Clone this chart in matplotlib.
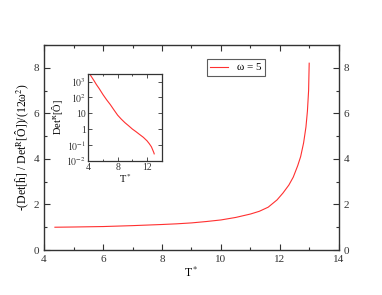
import numpy as np
import matplotlib

matplotlib.use('Agg')
import matplotlib.pyplot as plt
from matplotlib.ticker import MultipleLocator, FixedLocator, FixedFormatter, LogLocator

plt.rcParams['font.family'] = ['Liberation Serif', 'DejaVu Serif']
plt.rcParams['mathtext.fontset'] = 'stix'

# main curve: -(Det[h] / Det^R[O]) / (12 w^2) vs T*
main_T = [4.37, 5.0, 6.0, 7.0, 8.0, 8.5, 9.0, 9.5, 10.0, 10.5, 11.0, 11.3, 11.6,
          11.9, 12.1, 12.3, 12.45, 12.6, 12.7, 12.8, 12.88, 12.93, 12.97, 12.99]
main_y = [1.0, 1.01, 1.03, 1.07, 1.12, 1.15, 1.19, 1.25, 1.32, 1.43, 1.58, 1.7, 1.88,
          2.2, 2.5, 2.85, 3.2, 3.7, 4.1, 4.7, 5.4, 6.1, 7.0, 8.2]

# inset: Det^R[O] vs T*
inset_T = [4.3, 4.5, 4.8, 5.1, 5.5, 6.0, 6.5, 7.0, 7.5, 8.0, 8.5, 9.0, 9.5, 10.0,
           10.5, 11.0, 11.5, 12.0, 12.3, 12.6, 12.8, 12.92, 12.98]
inset_y = [2500, 1800, 1100, 650, 350, 150, 70, 35, 16, 7.5, 4.2, 2.5, 1.6, 1.0,
           0.68, 0.45, 0.3, 0.18, 0.12, 0.075, 0.045, 0.033, 0.027]

red = '#ff3030'
grey = '#333333'

fig = plt.figure(figsize=(3.82, 2.95), dpi=100)
ax = fig.add_axes([0.1152, 0.1525, 0.7722, 0.695])
ax.plot(main_T, main_y, color=red, lw=0.8, label='ω = 5')
ax.set_xlim(4, 14)
ax.set_ylim(0, 9)
ax.xaxis.set_major_locator(MultipleLocator(2))
ax.xaxis.set_minor_locator(MultipleLocator(1))
ax.yaxis.set_major_locator(MultipleLocator(2))
ax.yaxis.set_minor_locator(MultipleLocator(1))
ax.tick_params(which='both', direction='in', top=True, right=True,
               labelright=True, labelsize=8, colors=grey, width=0.8)
ax.tick_params(which='major', length=4)
ax.tick_params(which='minor', length=2)
for s in ax.spines.values():
    s.set_color(grey)
    s.set_linewidth(1.0)
ax.set_xlabel('T$^*$', fontsize=8.5, labelpad=1)
ax.set_ylabel('-(Det[ĥ] / Det$^{\\mathrm{R}}$[Ô])/(12ω$^2$)', fontsize=8.5, labelpad=2)
leg = ax.legend(loc='upper left', bbox_to_anchor=(0.553, 0.93), fontsize=8,
                frameon=True, fancybox=False, handlelength=1.6,
                borderpad=0.3, borderaxespad=0)
leg.get_frame().set_edgecolor(grey)
leg.get_frame().set_linewidth(0.8)

ins = fig.add_axes([0.2312, 0.4553, 0.1921, 0.2937])
ins.plot(inset_T, inset_y, color=red, lw=0.8)
ins.set_yscale('log')
ins.set_xlim(4, 14)
ins.set_ylim(1e-2, 3e3)
ins.xaxis.set_major_locator(FixedLocator([4, 8, 12]))
ins.xaxis.set_minor_locator(FixedLocator([6, 10, 14]))
ins.yaxis.set_major_locator(FixedLocator([1e-2, 1e-1, 1, 10, 1e2, 1e3]))
ins.yaxis.set_major_formatter(FixedFormatter(
    ['$10^{-2}$', '$10^{-1}$', '1', '10', '$10^2$', '$10^3$']))
ins.yaxis.set_minor_locator(LogLocator(base=10, subs=np.arange(2, 10)))
ins.yaxis.set_minor_formatter(plt.NullFormatter())
ins.tick_params(which='both', direction='in', top=True, right=True,
                labelsize=7, colors=grey, width=0.6, pad=1.5)
ins.tick_params(which='major', length=3)
ins.tick_params(which='minor', length=1.5)
for s in ins.spines.values():
    s.set_color(grey)
    s.set_linewidth(0.9)
ins.set_xlabel('T$^*$', fontsize=7.5, labelpad=0)
ins.set_ylabel('Det$^{\\mathrm{R}}$[Ô]', fontsize=7.5, labelpad=1)

fig.savefig('out.png', dpi=100)
